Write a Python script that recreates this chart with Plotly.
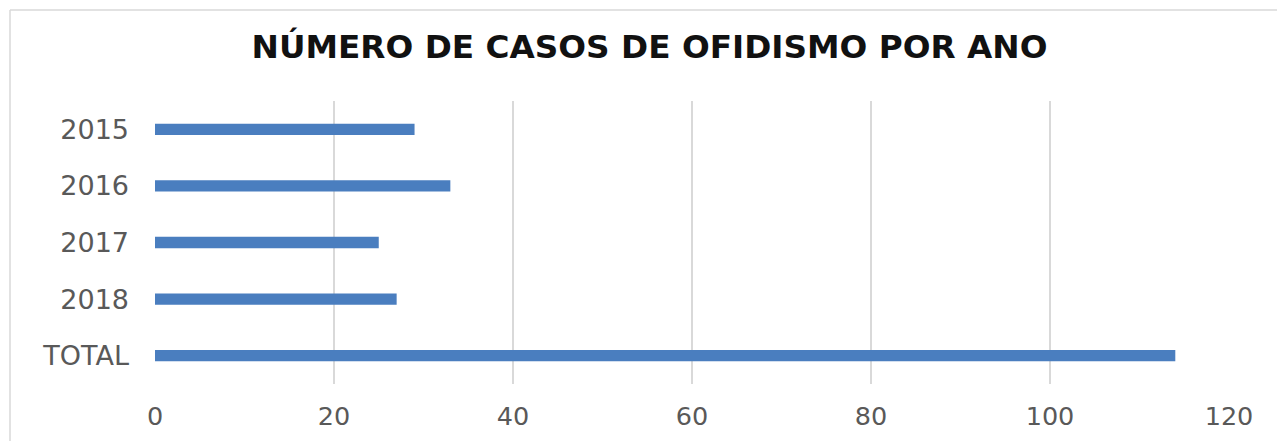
import plotly.graph_objects as go

categories = ["2015", "2016", "2017", "2018", "TOTAL"]
values = [29, 33, 25, 27, 114]
x_ticks = [0, 20, 40, 60, 80, 100, 120]

W, H = 1277, 441
ml, mr, mt, mb = 155, 48, 101, 57
pw, ph = W - ml - mr, H - mt - mb

fig = go.Figure(
    go.Bar(
        x=values,
        y=categories,
        orientation="h",
        marker=dict(color="#4a7ebf", line=dict(width=0)),
        width=0.2,
    )
)

bx0 = (10 - ml) / pw
by1 = (H - mb - 10) / ph

fig.update_layout(
    width=W,
    height=H,
    margin=dict(l=ml, r=mr, t=mt, b=mb, pad=0, autoexpand=False),
    paper_bgcolor="white",
    plot_bgcolor="white",
    showlegend=False,
    title=dict(
        text="<b>NÚMERO DE CASOS DE OFIDISMO POR ANO</b>",
        font=dict(family="DejaVu Sans", size=32.7, color="#111111"),
        xref="container",
        yref="container",
        x=649.5 / W,
        y=1 - 47 / H,
        xanchor="center",
        yanchor="middle",
    ),
    xaxis=dict(
        range=[0, 120],
        tickvals=x_ticks,
        ticktext=[str(v) for v in x_ticks],
        showgrid=True,
        gridcolor="#d9d9d9",
        gridwidth=1.5,
        zeroline=False,
        showline=False,
        ticks="",
        automargin=False,
        ticklabelstandoff=14,
        tickfont=dict(family="DejaVu Sans", size=25.5, color="#595959"),
    ),
    yaxis=dict(
        categoryorder="array",
        categoryarray=categories,
        autorange="reversed",
        showgrid=False,
        zeroline=False,
        showline=False,
        ticks="",
        automargin=False,
        ticklabelstandoff=25,
        tickfont=dict(family="DejaVu Sans", size=27, color="#595959"),
    ),
    shapes=[
        dict(type="line", xref="paper", yref="paper",
             x0=bx0, x1=1.2, y0=by1, y1=by1,
             line=dict(color="#d9d9d9", width=1.5), layer="below"),
        dict(type="line", xref="paper", yref="paper",
             x0=bx0, x1=bx0, y0=-0.4, y1=by1,
             line=dict(color="#d9d9d9", width=1.5), layer="below"),
    ],
)

fig.write_html("out.html")
